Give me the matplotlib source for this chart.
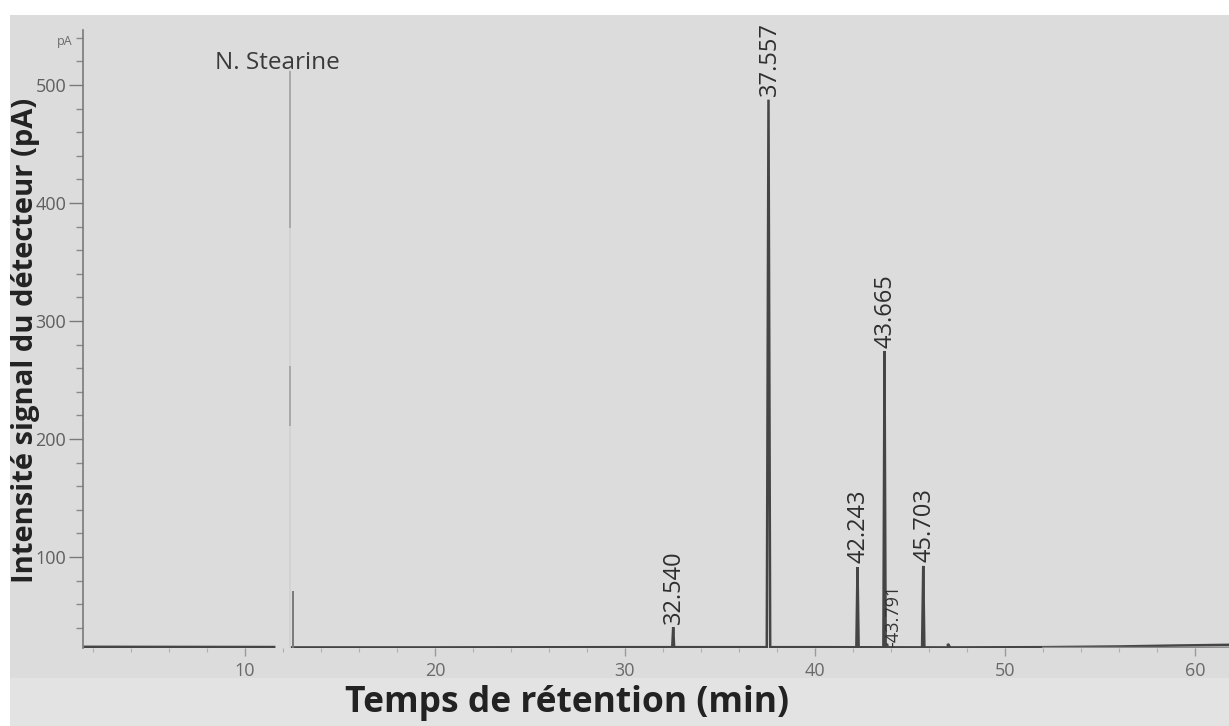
import numpy as np
import matplotlib
matplotlib.use("Agg")
import matplotlib.pyplot as plt
from matplotlib.patches import Rectangle

plt.rcParams['font.family'] = ['Open Sans', 'DejaVu Sans']

# ---- data ----
peak_times = [32.540, 37.557, 42.243, 43.665, 43.791, 45.703, 47.0]
peak_heights = [17, 464, 68, 251, 3, 69, 3]           # above baseline (pA)
peak_halfwidths = [0.05, 0.09, 0.06, 0.06, 0.05, 0.06, 0.12]
peak_labels = ["32.540", "37.557", "42.243", "43.665", "-43.791", "45.703", ""]

baseline_times = [1.5, 11.6, 12.45, 20.0, 30.0, 40.0, 47.0, 52.0, 56.0, 59.0, 61.8]
baseline_values = [23.8, 23.6, 23.4, 23.4, 23.6, 23.6, 23.4, 23.6, 24.2, 25.0, 25.6]
gap_start, gap_end = 11.6, 12.45

solvent_time = 12.5
solvent_top = 512
solvent_dark_top = 70
solvent_mid_segments = [(380, 511), (212, 261)]

xticks_major = [10, 20, 30, 40, 50, 60]
yticks_major = [100, 200, 300, 400, 500]

# ---- figure ----
W, H = 1229, 726
fig = plt.figure(figsize=(W / 100, H / 100), dpi=100)
fig.patch.set_facecolor("white")
fig.patches.append(Rectangle((10 / W, 0), 1, 1 - 15 / H, transform=fig.transFigure,
                             facecolor="#dcdcdc", edgecolor="none", zorder=-10))
fig.patches.append(Rectangle((10 / W, 0), 1, 1 - 678 / H, transform=fig.transFigure,
                             facecolor="#e3e3e3", edgecolor="none", zorder=-9))

ax = fig.add_axes([83 / W, 1 - 648 / H, 1 - 83 / W, (648 - 30) / H])
ax.set_facecolor("none")
ax.set_xlim(1.47, 61.8)
ax.set_ylim(22.9, 546.6)

line_col = "#454545"

# baseline with gap around the solvent peak
bt = np.array(baseline_times)
bv = np.array(baseline_values)
left = bt <= gap_start
right = bt >= gap_end
ax.plot(bt[left], bv[left], color=line_col, lw=2.0, solid_capstyle="butt")

# right part of trace: baseline + peaks
pts = [(t, v) for t, v in zip(bt[right], bv[right])]
for t, h, w in zip(peak_times, peak_heights, peak_halfwidths):
    b = np.interp(t, bt, bv)
    pts += [(t - w, b), (t, b + h), (t + w, b)]
pts.sort(key=lambda p: p[0])
tx = [p[0] for p in pts]
ty = [p[1] for p in pts]
ax.plot(tx, ty, color=line_col, lw=1.8, solid_joinstyle="miter")
# slight second trace at the end
ax.plot(bt[-4:], bv[-4:] - np.array([0.2, 0.8, 1.6, 2.0]), color="#8a8a8a", lw=1.0)

# solvent peak (faded, off scale)
sb = np.interp(solvent_time, bt, bv)
ax.plot([solvent_time - 0.12, solvent_time - 0.12], [sb, solvent_top], color="#d2d2d2", lw=1.4)
for lo, hi in solvent_mid_segments:
    ax.plot([solvent_time - 0.12, solvent_time - 0.12], [lo, hi], color="#a8a8a8", lw=1.4)
ax.plot([solvent_time + 0.05, solvent_time + 0.05], [sb, solvent_dark_top], color="#7a7a7a", lw=1.4)
ax.text(11.7, 519, "N. Stearine", ha="center", va="center", fontsize=17.5, color="#3a3a3a")

# peak labels
for t, h, lab in zip(peak_times, peak_heights, peak_labels):
    if not lab:
        continue
    b = np.interp(t, bt, bv)
    if lab.startswith("-"):
        ax.text(t + 0.35, b + 0.5, lab, rotation=90, ha="center", va="bottom",
                fontsize=13, color="#333333")
    else:
        ax.text(t + 0.05, b + h + 3, lab, rotation=90, ha="center", va="bottom",
                fontsize=17, color="#2e2e2e")

# axes styling
for s in ["top", "right", "bottom"]:
    ax.spines[s].set_visible(False)
ax.spines["left"].set_color("#7a7a7a")
ax.spines["left"].set_linewidth(1.2)

ax.set_yticks(yticks_major)
ax.set_yticks(np.arange(40, 541, 20), minor=True)
ax.set_xticks(xticks_major)
ax.set_xticks(np.arange(2, 62, 2), minor=True)
ax.tick_params(axis="y", which="major", length=10, width=1.0, color="#7a7a7a",
               labelsize=13, labelcolor="#5f5f5f", pad=2)
ax.tick_params(axis="y", which="minor", length=5, width=1.0, color="#8a8a8a")
ax.tick_params(axis="x", which="major", length=6, width=1.0, color="#9a9a9a",
               labelsize=13, labelcolor="#6a6a6a", pad=4)
ax.tick_params(axis="x", which="minor", length=3, width=0.8, color="#b0b0b0")

fig.text(65 / W, 1 - 42 / H, "pA", fontsize=9, color="#6a6a6a", ha="center", va="center")

fig.text(26 / W, 1 - 340 / H, "Intensité signal du détecteur (pA)", rotation=90,
         fontsize=21, fontweight="bold", color="#222222", ha="center", va="center")
fig.text(567 / W, 1 - 703 / H, "Temps de rétention (min)", fontsize=25.5,
         fontweight="bold", color="#222222", ha="center", va="center")

fig.savefig("out.png", dpi=100, facecolor=fig.get_facecolor())
